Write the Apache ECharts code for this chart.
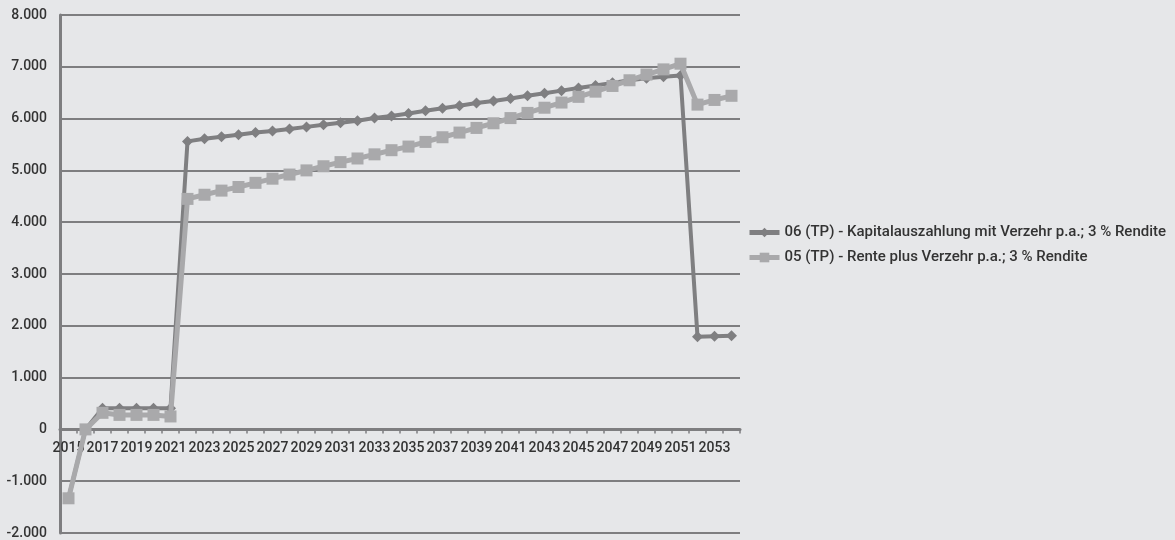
<!DOCTYPE html>
<html>
<head>
<meta charset="utf-8">
<script src="https://cdn.jsdelivr.net/npm/echarts@6/dist/echarts.min.js"></script>
<style>
  html, body { margin: 0; padding: 0; background: #e6e7e9; }
  #chart { width: 1175px; height: 540px; }
</style>
</head>
<body>
<div id="chart"></div>
<script>
// Years 2015–2054
const years = [];
for (let y = 2015; y <= 2054; y++) years.push(String(y));

const seriesNames = [
  '06 (TP) - Kapitalauszahlung mit Verzehr p.a.; 3 % Rendite',
  '05 (TP) - Rente plus Verzehr p.a.; 3 % Rendite'
];

// 06 (TP) - Kapitalauszahlung mit Verzehr
const kapitalauszahlung = [
  -1330, 0, 410, 410, 410, 410, 410,
  5560, 5610, 5650, 5690, 5730, 5760, 5800, 5840, 5880, 5920,
  5960, 6010, 6050, 6100, 6150, 6200, 6250, 6300, 6340, 6390,
  6440, 6490, 6540, 6590, 6640, 6690, 6740, 6780, 6810, 6830,
  1790, 1800, 1810
];

// 05 (TP) - Rente plus Verzehr
const rentePlusVerzehr = [
  -1330, 0, 320, 280, 280, 280, 250,
  4450, 4530, 4610, 4680, 4760, 4840, 4920, 5000, 5080, 5160,
  5230, 5310, 5390, 5460, 5550, 5640, 5730, 5820, 5910, 6010,
  6110, 6210, 6310, 6420, 6520, 6630, 6740, 6850, 6950, 7060,
  6270, 6360, 6440
];

const yTicks = { min: -2000, max: 8000, interval: 1000 };

function deNumber(v) {
  const s = String(Math.abs(v)).replace(/\B(?=(\d{3})+(?!\d))/g, '.');
  return (v < 0 ? '-' : '') + s;
}

const darkGrey = '#7f7f81';
const lightGrey = '#a9a9ab';
const axisColor = '#7e7e80';
const textColor = '#333333';
const font = 'Roboto, "DejaVu Sans", sans-serif';

// plot area geometry
const gridTop = 15, gridBottom = 7, chartHeight = 540;
const plotHeight = chartHeight - gridTop - gridBottom;
// distance from the plot bottom up to the zero line; the year labels sit just under it
const zeroOffset = plotHeight * (0 - yTicks.min) / (yTicks.max - yTicks.min);

const chart = echarts.init(document.getElementById('chart'));
chart.setOption({
  backgroundColor: '#e6e7e9',
  animation: false,
  grid: { left: 60, right: 435, top: gridTop, bottom: gridBottom, containLabel: false, outerBoundsMode: 'none' },
  legend: {
    orient: 'vertical',
    left: 742,
    top: 220,
    itemGap: 10,
    itemWidth: 30,
    itemHeight: 12,
    textStyle: { color: textColor, fontSize: 15, fontFamily: font, fontWeight: 500 },
    data: [
      { name: seriesNames[0], lineStyle: { width: 5, color: darkGrey }, itemStyle: { color: darkGrey } },
      { name: seriesNames[1], lineStyle: { width: 5, color: lightGrey }, itemStyle: { color: lightGrey } }
    ]
  },
  xAxis: {
    type: 'category',
    data: years,
    boundaryGap: true,
    axisLine: { onZero: true, lineStyle: { color: axisColor, width: 3 } },
    axisTick: { show: true, alignWithLabel: false, interval: 0, length: 4, lineStyle: { color: axisColor, width: 1.5 } },
    axisLabel: { interval: 1, color: textColor, fontSize: 14, fontFamily: font, fontWeight: 500, margin: 12 - zeroOffset },
    splitLine: { show: false }
  },
  yAxis: {
    type: 'value',
    min: yTicks.min,
    max: yTicks.max,
    interval: yTicks.interval,
    axisLine: { show: true, lineStyle: { color: axisColor, width: 3 } },
    axisTick: { show: false },
    axisLabel: { color: textColor, fontSize: 14, fontFamily: font, fontWeight: 500, margin: 13, formatter: deNumber },
    splitLine: { show: true, lineStyle: { color: axisColor, width: 2 } }
  },
  series: [
    {
      name: seriesNames[0],
      type: 'line',
      data: kapitalauszahlung,
      symbol: 'diamond',
      symbolSize: 11,
      showAllSymbol: true,
      itemStyle: { color: darkGrey },
      lineStyle: { color: darkGrey, width: 4 },
      z: 2
    },
    {
      name: seriesNames[1],
      type: 'line',
      data: rentePlusVerzehr,
      symbol: 'rect',
      symbolSize: 12,
      showAllSymbol: true,
      itemStyle: { color: lightGrey },
      lineStyle: { color: lightGrey, width: 5 },
      z: 3
    }
  ]
});
</script>
</body>
</html>
